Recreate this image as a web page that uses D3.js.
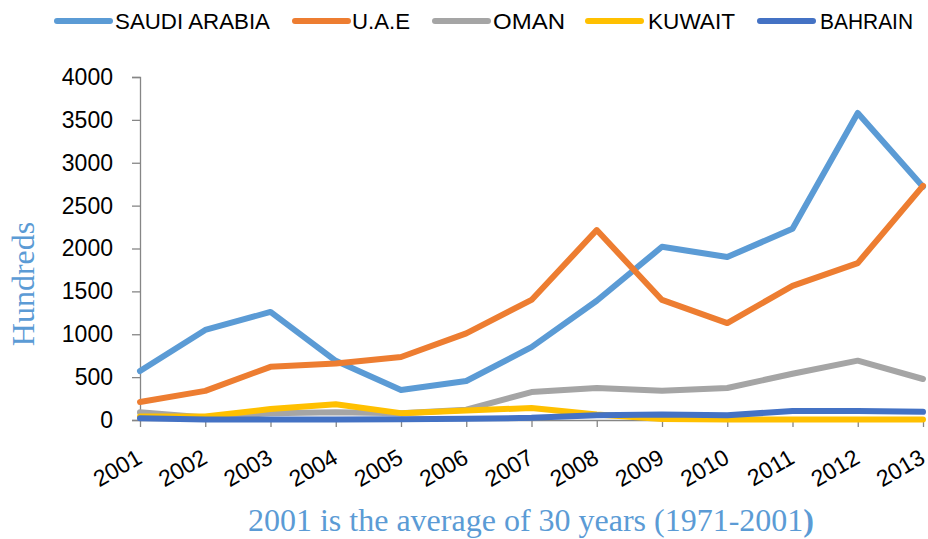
<!DOCTYPE html>
<html>
<head>
<meta charset="utf-8">
<script src="https://cdn.jsdelivr.net/npm/d3@7"></script>
<style>
  html, body { margin: 0; padding: 0; background: #fff; }
  svg { display: block; }
</style>
</head>
<body>
<svg id="chart" width="928" height="539"></svg>
<script>
const years = ["2001","2002","2003","2004","2005","2006","2007","2008","2009","2010","2011","2012","2013"];
const saudiArabia = [571, 1050, 1260, 690, 350, 455, 850, 1390, 2020, 1900, 2230, 3580, 2720];
const uae         = [210, 340, 620, 660, 735, 1010, 1400, 2215, 1400, 1130, 1565, 1830, 2730];
const oman        = [90, 30, 80, 90, 80, 120, 326, 373, 342, 373, 540, 692, 478];
const kuwait      = [40, 40, 128, 183, 80, 110, 140, 65, 12, 5, 5, 5, 5];
const bahrain     = [20, 5, 5, 5, 10, 15, 25, 55, 65, 55, 105, 105, 95];
const yTicks = [0, 500, 1000, 1500, 2000, 2500, 3000, 3500, 4000];
const seriesNames = ["SAUDI ARABIA", "U.A.E", "OMAN", "KUWAIT", "BAHRAIN"];
const seriesColors = ["#5b9bd5", "#ed7d31", "#a5a5a5", "#ffc000", "#4472c4"];
const seriesValues = [saudiArabia, uae, oman, kuwait, bahrain];
const yTitle = "Hundreds";
const xTitleMain = "2001 is the average of 30 years (1971-2001";
const xTitleEnd = ")";

(function () {
const svg = d3.select("#chart");
const pLeft = 140, pRight = 923, pTop = 77, pBottom = 420;
const x = d3.scalePoint().domain(years).range([pLeft, pRight]);
const y = d3.scaleLinear().domain([0, 4000]).range([pBottom, pTop]);
const axisColor = "#868686";
const tickFont = "'Liberation Sans', Arial, sans-serif";

// Y axis
const yAxis = svg.append("g").attr("transform", `translate(${pLeft},0)`)
  .call(d3.axisLeft(y).tickValues(yTicks).tickSize(8).tickPadding(19).tickFormat(d3.format("d")));
yAxis.select(".domain").attr("stroke", axisColor).attr("stroke-width", 1.3);
yAxis.selectAll(".tick line").attr("stroke", axisColor).attr("stroke-width", 1.3);
yAxis.selectAll("text").attr("font-family", tickFont).attr("font-size", 23).attr("fill", "#000");

// X axis
const xAxis = svg.append("g").attr("transform", `translate(0,${pBottom})`)
  .call(d3.axisBottom(x).tickSize(7).tickSizeOuter(0));
xAxis.select(".domain").attr("stroke", axisColor).attr("stroke-width", 1.3);
xAxis.selectAll(".tick line").attr("stroke", axisColor).attr("stroke-width", 1.3);
xAxis.selectAll("text")
  .attr("font-family", tickFont).attr("font-size", 23).attr("fill", "#000")
  .attr("text-anchor", "end")
  .attr("dy", null).attr("y", null)
  .attr("transform", "translate(3,42) rotate(-30)");

// Lines
const line = d3.line().x((d, i) => x(years[i])).y(d => y(d));
seriesValues.forEach((vals, k) => {
  svg.append("path").datum(vals)
    .attr("d", line)
    .attr("fill", "none")
    .attr("stroke", seriesColors[k])
    .attr("stroke-width", 6)
    .attr("stroke-linejoin", "round")
    .attr("stroke-linecap", "round");
});

// Legend
const legendPos = [
  {lx: 57, tx: 115, tw: 155},
  {lx: 295, tx: 352, tw: 58},
  {lx: 435, tx: 493, tw: 72},
  {lx: 588, tx: 648, tw: 87},
  {lx: 760, tx: 820, tw: 93}
];
seriesNames.forEach((name, k) => {
  const p = legendPos[k];
  svg.append("line").attr("x1", p.lx).attr("x2", p.lx + 53).attr("y1", 21).attr("y2", 21)
    .attr("stroke", seriesColors[k]).attr("stroke-width", 6).attr("stroke-linecap", "round");
  svg.append("text").attr("x", p.tx).attr("y", 29)
    .attr("font-family", tickFont).attr("font-size", 22).attr("fill", "#000")
    .attr("textLength", p.tw).attr("lengthAdjust", "spacingAndGlyphs")
    .text(name);
});

// Axis titles
svg.append("text")
  .attr("transform", "translate(34,284) rotate(-90)")
  .attr("text-anchor", "middle")
  .attr("font-family", "'Liberation Serif', 'Times New Roman', serif")
  .attr("font-size", 32).attr("fill", "#5b9bd5")
  .text(yTitle);
const xt = svg.append("text")
  .attr("x", 531).attr("y", 531)
  .attr("text-anchor", "middle")
  .attr("font-family", "'Liberation Serif', 'Times New Roman', serif")
  .attr("font-size", 32).attr("fill", "#5b9bd5");
xt.append("tspan").text(xTitleMain);
xt.append("tspan").attr("font-weight", "bold").text(xTitleEnd);
})();
</script>
</body>
</html>
